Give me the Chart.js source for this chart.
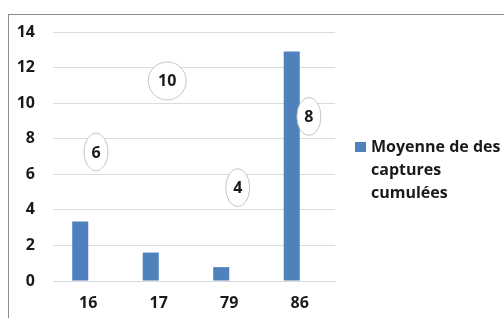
<!DOCTYPE html>
<html>
<head>
<meta charset="utf-8">
<script src="https://cdn.jsdelivr.net/npm/chart.js@4.4.1/dist/chart.umd.min.js"></script>
<style>
  body { margin: 0; background: #fff; }
  #wrap { position: relative; width: 504px; height: 318px; overflow: hidden; }
  #frame { position: absolute; left: 8px; top: 14px; width: 600px; height: 400px; border: 1px solid #8c8c8c; }
  canvas { position: absolute; left: 0; top: 0; }
</style>
</head>
<body>
<div id="wrap">
  <div id="frame"></div>
  <canvas id="myChart" width="504" height="318"></canvas>
</div>
<script>
// data
const categories = ['16', '17', '79', '86'];
const captures = [3.35, 1.6, 0.78, 12.9];
const seriesLabel = ['Moyenne de des', 'captures', 'cumulées'];

// circled numbers sitting on the plot (category position, value)
const noteLabels = ['6', '10', '4', '8'];
const noteX = [0.11, 1.12, 2.12, 3.13];
const noteY = [7.25, 11.25, 5.25, 9.25];

const fontFamily = "'Open Sans', 'Liberation Sans', sans-serif";
const textColor = '#1a1a1a';

const notesPlugin = {
    id: 'notes',
    afterDatasetsDraw(chart) {
        const ctx = chart.ctx;
        const xs = chart.scales.x, ys = chart.scales.y;
        ctx.save();
        ctx.font = 'bold 16px ' + fontFamily;
        ctx.textAlign = 'center';
        ctx.textBaseline = 'middle';
        for (let i = 0; i < noteLabels.length; i++) {
            const cx = xs.getPixelForValue(noteX[i]);
            const cy = ys.getPixelForValue(noteY[i]);
            const rx = noteLabels[i].length > 1 ? 19 : 12;
            ctx.beginPath();
            ctx.ellipse(cx, cy, rx, 19, 0, 0, Math.PI * 2);
            ctx.fillStyle = '#ffffff';
            ctx.fill();
            ctx.strokeStyle = '#c4c4c4';
            ctx.lineWidth = 1;
            ctx.stroke();
            ctx.fillStyle = textColor;
            ctx.fillText(noteLabels[i], cx, cy + 1);
        }
        ctx.restore();
    }
};

const legendPlugin = {
    id: 'sideLegend',
    afterDraw(chart) {
        const ctx = chart.ctx;
        const x = chart.chartArea.right + 20;
        const y = 147;
        ctx.save();
        ctx.fillStyle = chart.data.datasets[0].backgroundColor;
        ctx.fillRect(x, y - 5, 11, 10);
        ctx.fillStyle = textColor;
        ctx.font = 'bold 16px ' + fontFamily;
        ctx.textAlign = 'left';
        ctx.textBaseline = 'middle';
        seriesLabel.forEach(function (line, i) {
            ctx.fillText(line, x + 16, y + i * 23);
        });
        ctx.restore();
    }
};

var ctx = document.getElementById('myChart').getContext('2d');
const myChart = new Chart(ctx, {
    type: 'bar',
    data: {
        labels: categories,
        datasets: [{
            label: seriesLabel.join(' '),
            data: captures,
            backgroundColor: '#4f81bd',
            borderWidth: 0,
            categoryPercentage: 0.455,
            barPercentage: 1
        }, {
            // empty second series, as in the original clustered layout
            label: '',
            data: [],
            backgroundColor: '#c0504d',
            categoryPercentage: 0.455,
            barPercentage: 1
        }]
    },
    options: {
        responsive: false,
        animation: false,
        layout: { padding: { left: 0, top: 32, right: 169, bottom: 0 } },
        plugins: {
            legend: { display: false },
            tooltip: { enabled: false }
        },
        scales: {
            x: {
                grid: { display: false, drawTicks: false },
                border: { display: true, color: '#d9d9d9', width: 1 },
                ticks: { color: textColor, font: { family: fontFamily, size: 16, weight: 'bold' }, padding: 13 },
                afterFit: function (scale) { scale.height = 37; }
            },
            y: {
                min: 0,
                max: 14,
                ticks: { stepSize: 2, color: textColor, font: { family: fontFamily, size: 16, weight: 'bold' }, padding: 18 },
                grid: { color: '#dcdcdc', drawTicks: false },
                border: { display: false },
                afterFit: function (scale) { scale.width = 53; }
            }
        }
    },
    plugins: [notesPlugin, legendPlugin]
});
</script>
</body>
</html>
